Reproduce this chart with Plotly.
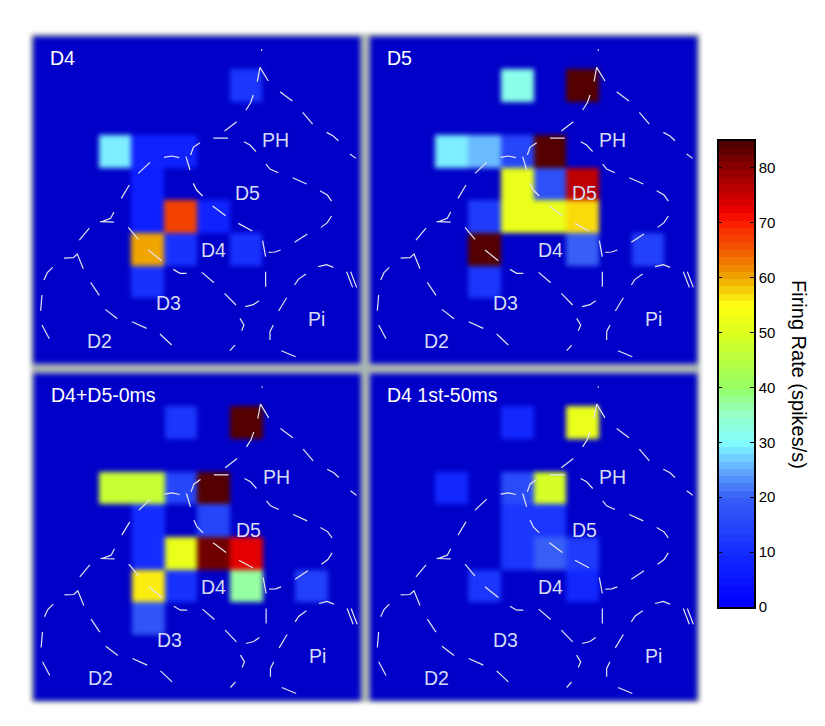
import numpy as np
import plotly.graph_objects as go

W, H = 825, 726
ZMAX = 85
PANEL_TITLES = ["D4", "D5", "D4+D5-0ms", "D4 1st-50ms"]

# firing rate per grid cell: (row, column, spikes/s); all other cells are 0
D4_CELLS = [(1,6,12),(3,2,29),(3,3,8),(3,4,8),(4,3,7),(5,3,7),(5,4,67),(5,5,8),
            (6,3,60),(6,4,11),(6,6,11),(7,3,11)]
D5_CELLS = [(1,4,32),(1,6,84),(3,2,29),(3,3,26),(3,4,15),(3,5,84),(4,4,52),(4,5,17),(4,6,76),
            (5,3,13),(5,4,52),(5,5,52),(5,6,57),(6,3,84),(6,6,20),(6,8,14),(7,3,12)]
D4D5_CELLS = [(1,4,12),(1,6,84),(3,2,47),(3,3,47),(3,4,15),(3,5,84),(4,3,10),(4,5,15),
              (5,3,10),(5,4,52),(5,5,82),(5,6,73),(6,3,56),(6,4,11),(6,6,37),(6,8,14),(7,3,18)]
D4LAG_CELLS = [(1,4,9),(1,6,52),(3,2,9),(3,4,16),(3,5,49),(4,4,12),(4,5,12),
               (5,4,12),(5,5,20),(5,6,13),(6,3,12),(6,6,9)]
ALL_CELLS = [D4_CELLS, D5_CELLS, D4D5_CELLS, D4LAG_CELLS]

SCALE_STOPS = [(0,(0,0,200)),(0.66,(0,0,255)),(10,(20,45,255)),(20,(55,95,245)),(25,(100,170,255)),
               (30,(130,255,255)),(35,(150,255,200)),(40,(150,255,100)),(50,(220,255,30)),
               (55,(255,255,20)),(60,(240,165,0)),(65,(240,90,0)),(70,(250,30,0)),(72,(240,0,0)),
               (80,(140,0,0)),(85,(70,0,0))]
TICKS = [0,10,20,30,40,50,60,70,80]

# cortical map outline, dashed pieces, in map units
OUTLINE = [
 [(725,58),(725,63)],[(712,155),(720,112),(745,153)],[(780,185),(817,213)],[(848,247),(878,282)],
 [(920,307),(940,318),(955,332)],[(990,372),(1008,385)],[(700,195),(692,218),(678,240)],
 [(650,275),(614,303)],[(580,324),(624,324)],[(672,335),(690,345),(708,365)],
 [(738,402),(750,417),(775,428)],[(818,443),(860,462)],[(900,482),(922,495),(935,513)],
 [(935,558),(922,578),(903,592)],[(862,612),(824,637)],[(782,660),(765,666),(746,667)],
 [(728,632),(737,680)],[(737,725),(737,770)],[(717,812),(700,824),(676,830)],[(648,825),(614,790)],
 [(582,758),(546,727)],[(500,730),(480,730),(460,718)],[(425,692),(385,660)],[(355,628),(325,592)],
 [(282,546),(272,565),(248,574),(240,575),(282,576)],[(208,594),(178,630)],
 [(132,684),(160,683),(172,672),(190,716)],[(98,712),(82,728),(72,750)],[(66,795),(62,842)],
 [(66,885),(88,926)],[(212,757),(238,796)],[(256,838),(292,866)],[(336,875),(380,895)],
 [(420,912),(455,945)],[(630,962),(645,945)],[(660,865),(672,885),(665,902)],
 [(750,930),(750,905),(760,885)],[(784,962),(827,980)],[(776,843),(800,803)],
 [(824,765),(835,748),(858,732)],[(895,710),(920,704),(940,712)],[(980,725),(998,772)],
 [(992,725),(1010,772)],[(540,338),(520,352),(512,375)],[(498,380),(510,420)],
 [(432,382),(455,378),(478,383)],[(390,397),(355,430)],[(328,465),(304,505)],
 [(520,460),(530,480),(548,498)],[(578,528),(617,557)],[(655,580),(697,603)],
]
AREA_LABELS = [("PH",768,330),("D5",683,490),("D4",580,660),("D3",447,820),("D2",240,933),("Pi",890,866)]

colorscale = [[v/ZMAX, f"rgb{c}"] for v, c in SCALE_STOPS]

X0, X1, Y0, Y1 = 40, 1020, 20, 1000     # map extent
CELL = 98
PAD = 24                                # room around each map for its soft edge
PANELS = [(33.3,36.7),(370,36.7),(33.8,373.5),(370,373.5)]   # left, top in px
SIZE = (X1 - X0) / 3

fig = go.Figure()
layout = dict(width=W, height=H, margin=dict(l=0,r=0,t=0,b=0), paper_bgcolor="white",
              plot_bgcolor="rgba(0,0,0,0)", showlegend=False,
              font=dict(family="Liberation Sans, Arial, sans-serif", color="black"))
annotations = []
xs, ys = [], []
for piece in OUTLINE:
    xs += [p[0] for p in piece] + [None]
    ys += [p[1] for p in piece] + [None]

for i, (cells, title) in enumerate(zip(ALL_CELLS, PANEL_TITLES)):
    grid = np.zeros((10, 10))
    for r, c, v in cells:
        grid[r, c] = v
    n = "" if i == 0 else str(i + 1)
    fig.add_trace(go.Heatmap(z=grid, x0=X0 + CELL/2, dx=CELL, y0=Y0 + CELL/2, dy=CELL,
                             zmin=0, zmax=ZMAX, colorscale=colorscale, showscale=False,
                             xaxis="x"+n, yaxis="y"+n, hoverinfo="skip"))
    fig.add_trace(go.Scatter(x=xs, y=ys, mode="lines", xaxis="x"+n, yaxis="y"+n, hoverinfo="skip",
                             line=dict(color="rgb(228,228,238)", width=1.2)))
    left, top = PANELS[i]
    p = PAD / 3
    layout["xaxis"+n] = dict(domain=[(left-p)/W, (left+SIZE+p)/W], range=[X0-PAD, X1+PAD], visible=False, automargin=False)
    layout["yaxis"+n] = dict(domain=[1-(top+SIZE+p)/H, 1-(top-p)/H], range=[Y1+PAD, Y0-PAD], visible=False, automargin=False)
    annotations.append(dict(text=title, x=85, y=85, xref="x"+n, yref="y"+n, xanchor="left", yanchor="middle",
                            showarrow=False, font=dict(size=19.5, color="white")))
    for t, ax, ay in AREA_LABELS:
        annotations.append(dict(text=t, x=ax, y=ay, xref="x"+n, yref="y"+n, showarrow=False,
                                font=dict(size=19.5, color="rgb(214,220,245)")))

# colour bar drawn as a heatmap strip on its own axis
step = ZMAX / 64
levels = (np.arange(64) + 0.5) * step
fig.add_trace(go.Heatmap(z=levels.reshape(-1, 1), x=[0], y0=step/2, dy=step, zmin=0, zmax=ZMAX,
                         colorscale=colorscale, showscale=False, xaxis="x5", yaxis="y5", hoverinfo="skip"))
layout["xaxis5"] = dict(domain=[718.5/W, 754/W], range=[-0.5, 0.5], showticklabels=False, ticks="", anchor="y5",
                        showline=True, linecolor="black", linewidth=1.5, mirror=True, showgrid=False, zeroline=False,
                        automargin=False)
layout["yaxis5"] = dict(domain=[1-607/H, 1-140.5/H], range=[0, ZMAX], side="right", anchor="x5",
                        tickvals=TICKS, ticks="inside", ticklen=4, tickwidth=1, tickcolor="black",
                        showline=True, linecolor="black", linewidth=1.5, mirror="ticks", automargin=False,
                        showgrid=False, zeroline=False, tickfont=dict(size=15, color="black"))
annotations.append(dict(text="Firing Rate (spikes/s)", x=812/W, y=1-374/H, xref="paper", yref="paper",
                        textangle=90, showarrow=False, font=dict(size=20, color="black")))
layout["annotations"] = annotations
layout["shapes"] = [dict(type="rect", xref="paper", yref="paper", layer="below",
                         x0=31/W, x1=700/W, y0=1-702/H, y1=1-34/H, line_width=0,
                         fillcolor="rgb(172,182,178)")]
fig.update_layout(**layout)

post = """
document.body.style.margin='0';
document.querySelectorAll('.hm image').forEach(function(im,i){ if(i<4){ im.style.filter='blur(2.4px)'; } });
document.querySelectorAll('.layer-below .shapelayer path').forEach(function(p){ p.style.filter='blur(2.5px)'; });
"""
fig.write_html("out.html", post_script=post, config=dict(displayModeBar=False))
